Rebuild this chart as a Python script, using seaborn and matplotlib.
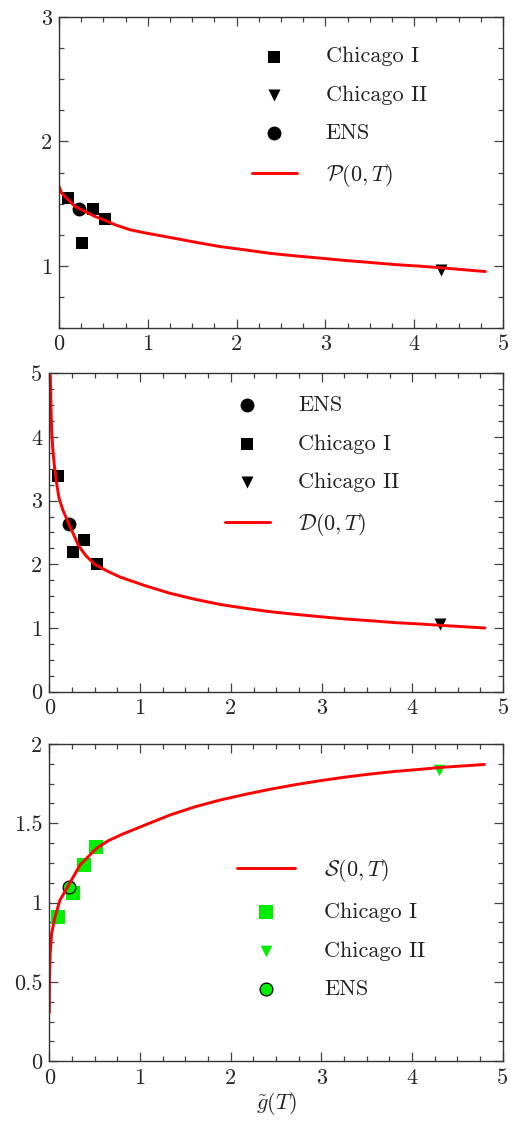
import numpy as np
import matplotlib
matplotlib.use("Agg")
import matplotlib.pyplot as plt
import seaborn as sns
from matplotlib.ticker import MultipleLocator, FixedLocator, FuncFormatter

# experimental points (same g~ positions in every panel)
ens_x = [0.22]
chi1_x = [0.10, 0.26, 0.38, 0.52]
chi2_x = [4.30]

# panel 1: P(0,T)
p_ens = [1.46]
p_chi1 = [1.547, 1.18, 1.46, 1.378]
p_chi2 = [0.97]
p_curve_x = [0.0, 0.03, 0.10, 0.18, 0.30, 0.405, 0.52, 0.63, 0.80, 0.968, 1.25, 1.532,
             1.81, 2.095, 2.38, 2.658, 2.94, 3.22, 3.50, 3.78, 4.07, 4.35, 4.80]
p_curve_y = [1.64, 1.585, 1.535, 1.477, 1.435, 1.397, 1.365, 1.33, 1.29, 1.265, 1.228, 1.19,
             1.155, 1.128, 1.10, 1.080, 1.062, 1.043, 1.027, 1.01, 0.997, 0.981, 0.954]

# panel 2: D(0,T)
d_curve_x = [0.011, 0.018, 0.026, 0.04, 0.055, 0.08, 0.107, 0.15, 0.22, 0.32, 0.40, 0.50,
             0.63, 0.78, 1.054, 1.33, 1.605, 1.88, 2.155, 2.43, 2.706, 2.98, 3.257, 3.53,
             3.81, 4.08, 4.36, 4.80]
d_curve_y = [4.97, 4.50, 4.08, 3.78, 3.56, 3.28, 3.04, 2.85, 2.62, 2.30, 2.14, 2.00,
             1.90, 1.80, 1.665, 1.545, 1.451, 1.37, 1.31, 1.256, 1.215, 1.178, 1.142, 1.115,
             1.084, 1.063, 1.037, 1.00]
d_ens = [2.64]
d_chi1 = [3.39, 2.20, 2.38, 2.00]
d_chi2 = [1.07]

# panel 3: S(0,T)
s_ens = [1.10]
s_chi1 = [0.908, 1.059, 1.239, 1.351]
s_chi2 = [1.836]
s_curve_x = [0.0, 0.002, 0.01, 0.026, 0.063, 0.118, 0.203, 0.339, 0.52, 0.65, 0.80, 1.055,
             1.33, 1.606, 1.88, 2.157, 2.43, 2.708, 2.98, 3.26, 3.53, 3.81, 4.08, 4.36, 4.80]
s_curve_y = [0.306, 0.512, 0.68, 0.807, 0.91, 1.016, 1.10, 1.237, 1.342, 1.39, 1.43, 1.489,
             1.552, 1.604, 1.646, 1.682, 1.714, 1.743, 1.768, 1.791, 1.81, 1.827, 1.84, 1.854, 1.871]

sns.set_style("ticks")
plt.rcParams["font.family"] = ["cmr10"]
plt.rcParams["mathtext.fontset"] = "cm"
plt.rcParams["axes.formatter.use_mathtext"] = False
plt.rcParams["axes.unicode_minus"] = False

fig = plt.figure(figsize=(5.11, 11.21), dpi=100)
ax1 = fig.add_axes([0.1155, 0.7074, 0.869, 0.2774])
ax2 = fig.add_axes([0.0965, 0.383, 0.888, 0.284])
ax3 = fig.add_axes([0.0965, 0.0533, 0.887, 0.283])

FS = 16
RED = "#ff0000"
GREEN = "#00ee00"
LW = 2.1
fmt = FuncFormatter(lambda v, pos: f"{v:g}")


def style_axis(ax, ymin, ymax, ymaj, ymin_step):
    ax.set_xlim(0, 5)
    ax.set_ylim(ymin, ymax)
    ax.xaxis.set_major_locator(MultipleLocator(1))
    ax.xaxis.set_minor_locator(MultipleLocator(0.25))
    ax.yaxis.set_major_locator(MultipleLocator(ymaj))
    ax.yaxis.set_minor_locator(MultipleLocator(ymin_step))
    ax.xaxis.set_major_formatter(fmt)
    ax.yaxis.set_major_formatter(fmt)
    ax.tick_params(which="both", direction="in", top=True, right=True,
                   labelsize=FS, color="#444444", width=0.9)
    ax.tick_params(which="major", length=6.5, pad=5)
    ax.tick_params(which="minor", length=3.5)
    for sp in ax.spines.values():
        sp.set_linewidth(1.0)
        sp.set_color("#333333")
    ax.set_xlabel("")
    ax.set_ylabel("")


leg_kw = dict(loc="upper left", frameon=False, fontsize=FS, borderpad=0,
              handlelength=2.0, handletextpad=1.3, labelspacing=0.85, labelcolor="#222222")

# ---- panel 1
sns.lineplot(x=p_curve_x, y=p_curve_y, color=RED, lw=LW, sort=False, estimator=None,
             ax=ax1, label=r"$\mathcal{P}(0,T)$")
sns.scatterplot(x=chi1_x, y=p_chi1, marker="s", color="k", s=68, linewidth=0, ax=ax1, label="Chicago I")
sns.scatterplot(x=chi2_x, y=p_chi2, marker="v", color="k", s=75, linewidth=0, ax=ax1, label="Chicago II")
sns.scatterplot(x=ens_x, y=p_ens, marker="o", color="k", s=100, linewidth=0, ax=ax1, label="ENS")
style_axis(ax1, 0.5, 3, 1, 0.25)
ax1.yaxis.set_major_locator(FixedLocator([1, 2, 3]))
h, l = ax1.get_legend_handles_labels()
order = [1, 2, 3, 0]
ax1.legend([h[i] for i in order], [l[i] for i in order],
           bbox_to_anchor=(0.41, 0.94), **leg_kw)

# ---- panel 2
sns.lineplot(x=d_curve_x, y=d_curve_y, color=RED, lw=LW, sort=False, estimator=None,
             ax=ax2, label=r"$\mathcal{D}(0,T)$")
sns.scatterplot(x=ens_x, y=d_ens, marker="o", color="k", s=100, linewidth=0, ax=ax2, label="ENS")
sns.scatterplot(x=chi1_x, y=d_chi1, marker="s", color="k", s=68, linewidth=0, ax=ax2, label="Chicago I")
sns.scatterplot(x=chi2_x, y=d_chi2, marker="v", color="k", s=75, linewidth=0, ax=ax2, label="Chicago II")
style_axis(ax2, 0, 5, 1, 0.25)
h, l = ax2.get_legend_handles_labels()
order = [1, 2, 3, 0]
ax2.legend([h[i] for i in order], [l[i] for i in order],
           bbox_to_anchor=(0.363, 0.965), **leg_kw)

# ---- panel 3
sns.lineplot(x=s_curve_x, y=s_curve_y, color=RED, lw=LW, sort=False, estimator=None,
             ax=ax3, label=r"$\mathcal{S}(0,T)$")
sns.scatterplot(x=chi1_x, y=s_chi1, marker="s", color=GREEN, s=90, linewidth=0, ax=ax3, label="Chicago I")
sns.scatterplot(x=chi2_x, y=s_chi2, marker="v", color=GREEN, s=70, linewidth=0, ax=ax3, label="Chicago II")
sns.scatterplot(x=ens_x, y=s_ens, marker="o", color=GREEN, s=85, edgecolor="k", linewidth=0.9,
                ax=ax3, label="ENS")
style_axis(ax3, 0, 2, 0.5, 0.125)
ax3.set_xlabel(r"$\tilde{g}(T)$", fontsize=FS, labelpad=2)
h, l = ax3.get_legend_handles_labels()
kw3 = dict(leg_kw, handlelength=2.6)
ax3.legend(h, l, bbox_to_anchor=(0.39, 0.68), **kw3)

fig.savefig("out.png", dpi=100)
